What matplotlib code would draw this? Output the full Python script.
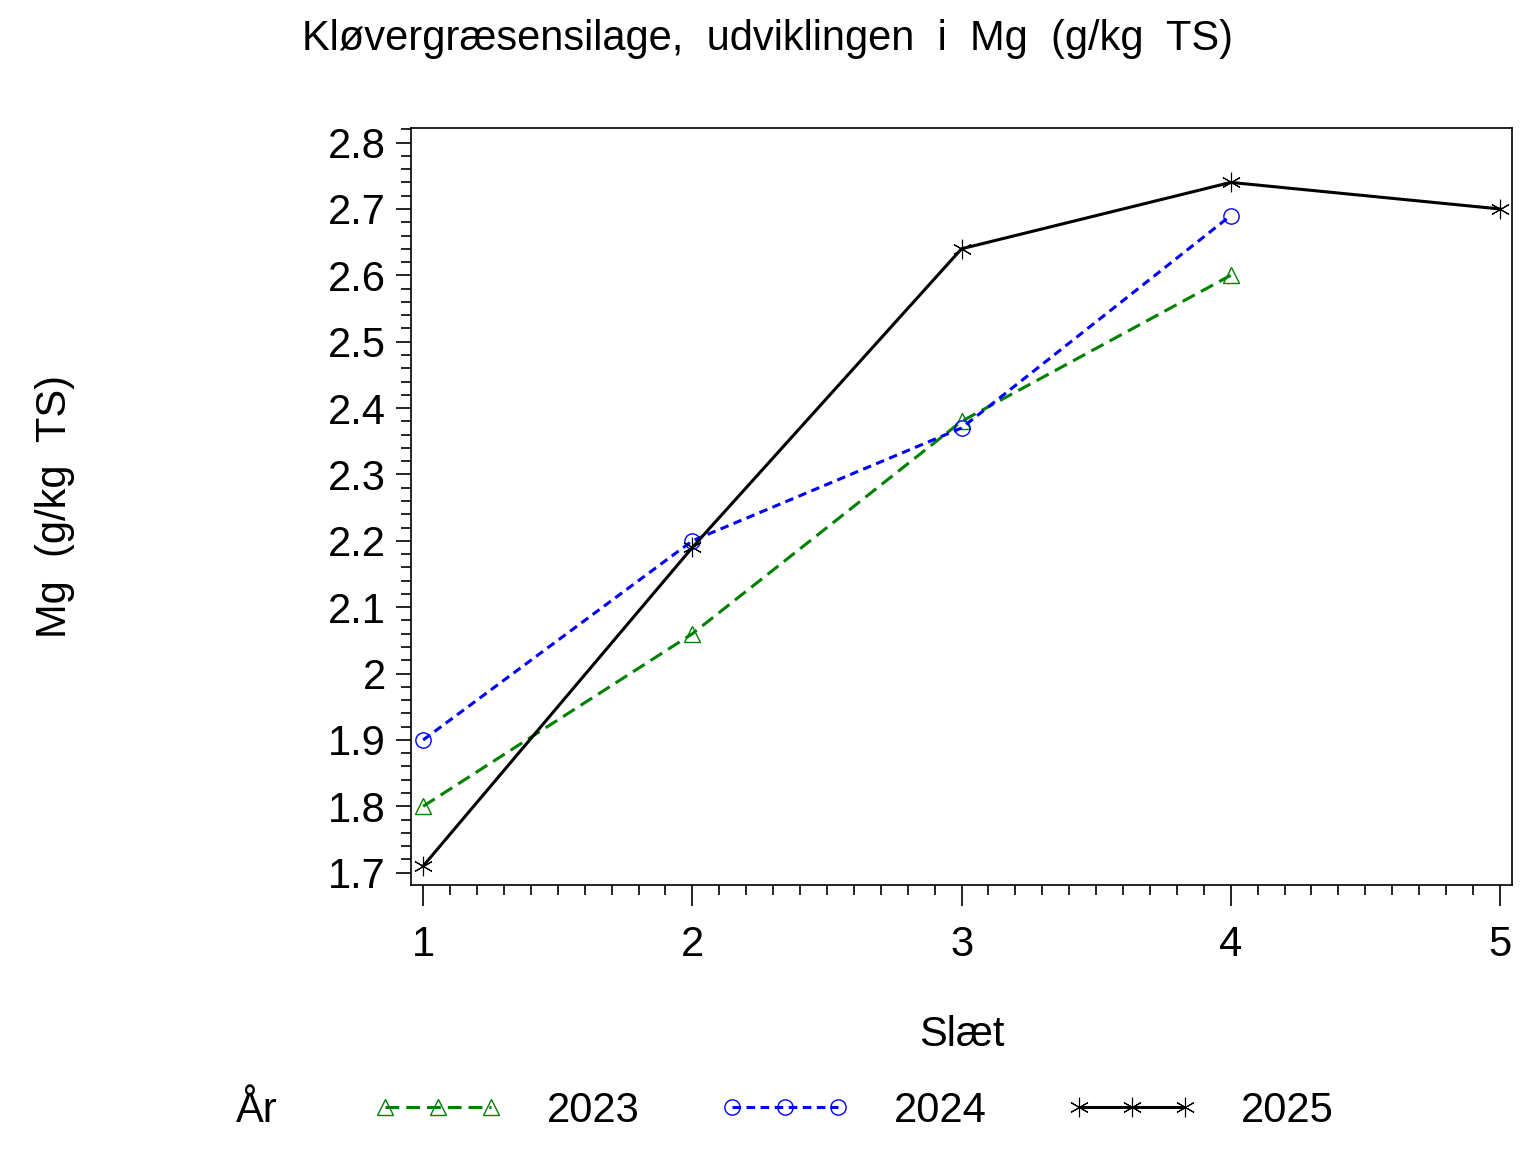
import matplotlib
matplotlib.use("Agg")
import matplotlib.pyplot as plt
from matplotlib.ticker import MultipleLocator

plt.rcParams['font.family'] = ['Liberation Sans', 'DejaVu Sans']

# data
slaet_2023 = [1, 2, 3, 4]
mg_2023 = [1.80, 2.06, 2.38, 2.60]
slaet_2024 = [1, 2, 3, 4]
mg_2024 = [1.90, 2.20, 2.37, 2.69]
slaet_2025 = [1, 2, 3, 4, 5]
mg_2025 = [1.71, 2.19, 2.64, 2.74, 2.70]

fig = plt.figure(figsize=(15.36, 11.52), dpi=100)
ax = fig.add_axes([0.2676, 0.2318, 0.7168, 0.6571])

l23, = ax.plot(slaet_2023, mg_2023, color='#008000', lw=2.2, dashes=(4.5, 2.3),
               marker='^', ms=12, mfc='none', mec='#008000', mew=1.0)
l24, = ax.plot(slaet_2024, mg_2024, color='#0000ff', lw=2.2, dashes=(2.8, 1.8),
               marker='o', ms=11, mfc='none', mec='#0000ff', mew=1.0)
l25, = ax.plot(slaet_2025, mg_2025, color='black', lw=2.2,
               marker=(6, 2, 0), ms=14, mec='black', mew=0.8)

ax.set_xlim(0.955, 5.045)
ax.set_ylim(1.6815, 2.822)
ax.xaxis.set_minor_locator(MultipleLocator(0.1))
ax.yaxis.set_minor_locator(MultipleLocator(0.02))
ax.set_xticks([1, 2, 3, 4, 5])
ax.set_xticklabels(['1', '2', '3', '4', '5'])
yt = [1.7, 1.8, 1.9, 2.0, 2.1, 2.2, 2.3, 2.4, 2.5, 2.6, 2.7, 2.8]
ax.set_yticks(yt)
ax.set_yticklabels(['1.7', '1.8', '1.9', '2', '2.1', '2.2', '2.3', '2.4', '2.5', '2.6', '2.7', '2.8'])

ax.tick_params(which='major', direction='out', length=11, width=1.2, labelsize=30, pad=7)
ax.tick_params(axis='x', which='major', length=15, pad=14)
ax.tick_params(which='minor', direction='out', length=7, width=1.2)
for s in ax.spines.values():
    s.set_linewidth(1.2)

ax.set_xlabel('Slæt', fontsize=30, labelpad=36)
fig.text(0.036, 0.56, 'Mg  (g/kg  TS)', fontsize=30, rotation=90, ha='center', va='center')
fig.text(0.5, 0.966, 'Kløvergræsensilage,  udviklingen  i  Mg  (g/kg  TS)',
         fontsize=30, ha='center', va='center')

fig.text(0.167, 0.036, 'År', fontsize=30, ha='center', va='center')
fig.legend([l23, l24, l25], ['2023', '2024', '2025'], loc='center left',
           bbox_to_anchor=(0.218, 0.036), ncol=3, frameon=False, fontsize=30,
           numpoints=3, handlelength=3.15, handletextpad=1.05, columnspacing=1.9)

fig.savefig('out.png', dpi=100)
